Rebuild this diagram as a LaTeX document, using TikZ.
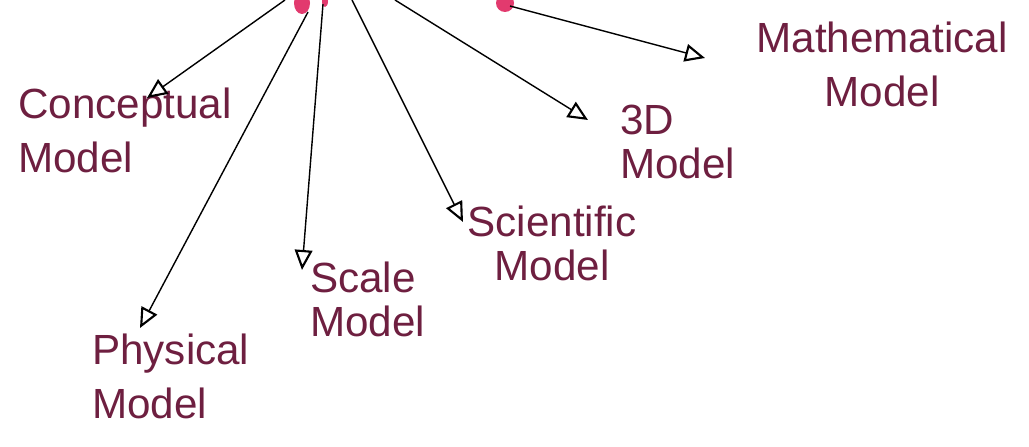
\documentclass[tikz,border=0pt]{standalone}
\usepackage{fontspec}
\setmainfont{Liberation Sans}
\usetikzlibrary{arrows.meta}
\definecolor{ink}{HTML}{6E1F40}
\definecolor{penpink}{HTML}{E23A6E}
\tikzset{
    label/.style = {
        text=ink,
        inner sep=0pt,
        font=\fontsize{30}{38}\selectfont
    },
    tight/.style = {
        font=\fontsize{30}{31}\selectfont
    },
    arrow/.style = {
        -{Triangle[open, length=5mm, width=4.4mm, line width=1.5pt]},
        line width=1pt, black
    },
    blob/.style = {
        fill=penpink
    }
}
\begin{document}
\begin{tikzpicture}[x=0.025cm, y=-0.025cm]

\useasboundingbox (0,0) rectangle (1029,446);
\fill[white] (0,0) rectangle (1029,446);

% cut-off ends of the title letters
\begin{scope}
\clip (0,0) rectangle (1029,446);
\fill[blob] (302,3) ellipse (8 and 11);
\fill[blob] (325,1) ellipse (3 and 6);
\fill[blob] (505,3) ellipse (9 and 9);
\end{scope}

% starting points of the arrows
\coordinate (s1) at (285,0);
\coordinate (s2) at (308,12);
\coordinate (s3) at (323,4);
\coordinate (s4) at (352,0);
\coordinate (s5) at (395,0);
\coordinate (s6) at (510,6);

\node (concept) [label, anchor=north west, align=left] at (18,88) {Conceptual\\Model};
\node (physical) [label, anchor=north west, align=left] at (92,334) {Physical\\Model};
\node (scale) [label, tight, anchor=north west, align=left] at (310,262) {Scale\\Model};
\node (science) [label, tight, anchor=north, align=center] at (552,206) {Scientific\\Model};
\node (threed) [label, tight, anchor=north west, align=left] at (620,105) {3D\\Model};
\node (maths) [label, anchor=north, align=center] at (882,22) {Mathematical\\Model};

\draw [arrow] (s1) -- ([shift={(129,10)}]concept.north west);
\draw [arrow] (s2) -- ([shift={(48,-6)}]physical.north west);
\draw [arrow] (s3) -- ([shift={(-8,8)}]scale.north west);
\draw [arrow] (s4) -- ([shift={(-89,16)}]science.north);
\draw [arrow] (s5) -- ([shift={(-32,15)}]threed.north west);
\draw [arrow] (s6) -- ([shift={(-177,36)}]maths.north);

\end{tikzpicture}
\end{document}
